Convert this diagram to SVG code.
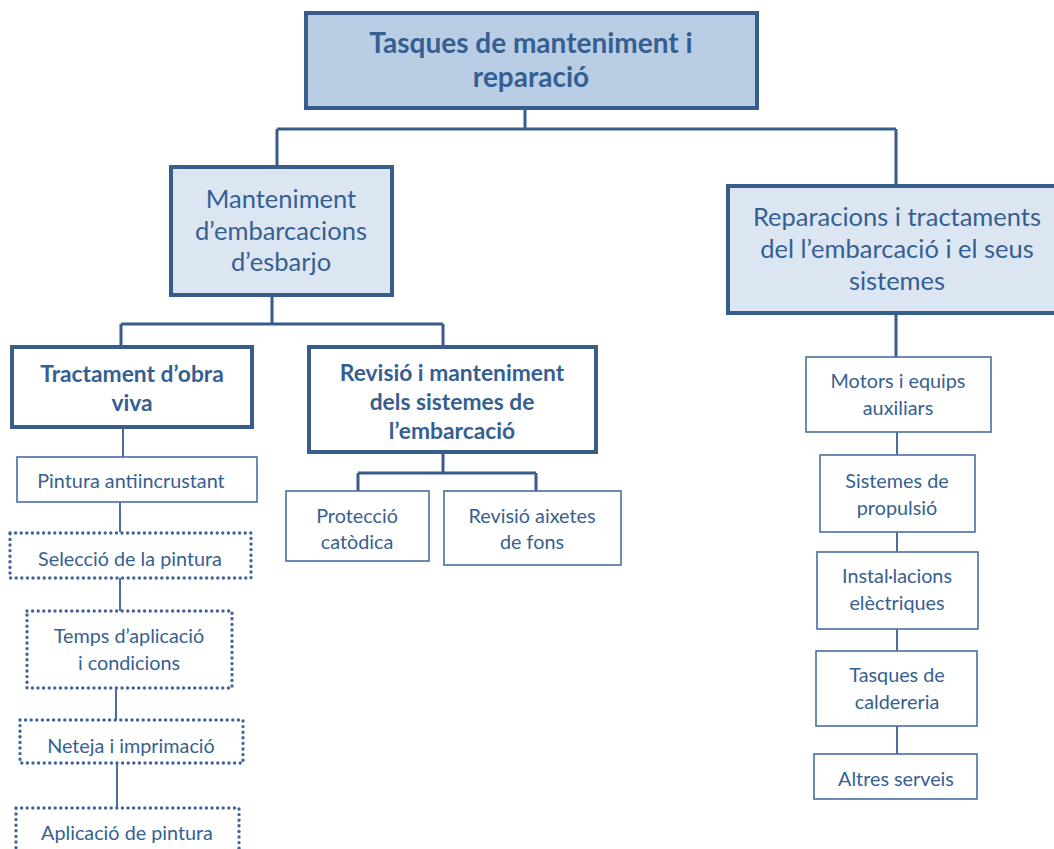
<svg xmlns="http://www.w3.org/2000/svg" width="1054" height="849" viewBox="0 0 1054 849">
<style>
text{font-family:Lato,"Open Sans","Liberation Sans",sans-serif;fill:#365F91;text-anchor:middle}
.b{font-weight:bold}
.t0{font-size:28px}
.t1{font-size:25.5px}
.t2{font-size:22.8px}
.t3{font-size:19.8px}
.main{fill:#B9CDE5;stroke:#385D8A;stroke-width:4}
.sub{fill:#DCE6F2;stroke:#385D8A;stroke-width:4}
.bold{fill:#fff;stroke:#385D8A;stroke-width:4}
.thin{fill:#fff;stroke:#4A6EA0;stroke-width:1.6}
.dot{fill:#fff;stroke:#3F6499;stroke-width:3.4;stroke-dasharray:0 5.6;stroke-linecap:round}
.c{fill:none;stroke:#385D8A;stroke-width:3}
.c2{fill:none;stroke:#4A6EA0;stroke-width:2}
</style>
<g id="connectors">
<path class="c" d="M525 108V129M277 129H896M277 129V166M896 129V185"/>
<path class="c" d="M272 295V324M121 324H443M121 324V346M443 324V346"/>
<path class="c" d="M443 452V473M358 473H536M358 473V491M536 473V491"/>
<path class="c2" d="M123 427V457M120 502V532M120 578V611M116 688V720M117 763V808"/>
<path class="c" d="M896 313V357"/>
<path class="c2" d="M897 432V455M897 532V552M897 629V651M897 726V754"/>
</g>
<g id="n-root"><rect class="main" x="306" y="13" width="451" height="95"/>
<text class="t0 b" x="531" y="53">Tasques de manteniment i</text>
<text class="t0 b" x="531" y="87">reparació</text></g>
<g id="n-manteniment"><rect class="sub" x="171" y="167" width="221" height="128"/>
<text class="t1" x="281" y="208">Manteniment</text>
<text class="t1" x="281" y="240">d’embarcacions</text>
<text class="t1" x="281" y="271">d’esbarjo</text></g>
<g id="n-reparacions"><rect class="sub" x="728" y="186" width="330" height="127"/>
<text class="t1" x="897" y="226">Reparacions i tractaments</text>
<text class="t1" x="897" y="258">del l’embarcació i el seus</text>
<text class="t1" x="897" y="290">sistemes</text></g>
<g id="n-obra"><rect class="bold" x="12" y="347" width="240" height="80"/>
<text class="t2 b" x="132" y="382">Tractament d’obra</text>
<text class="t2 b" x="132" y="411">viva</text></g>
<g id="n-revisio"><rect class="bold" x="309" y="347" width="287" height="105"/>
<text class="t2 b" x="452" y="381">Revisió i manteniment</text>
<text class="t2 b" x="452" y="410">dels sistemes de</text>
<text class="t2 b" x="452" y="439">l’embarcació</text></g>
<g id="n-pintura"><rect class="thin" x="17" y="457" width="240" height="45"/>
<text class="t3" x="131" y="488">Pintura antiincrustant</text></g>
<g id="n-seleccio"><rect class="dot" x="10" y="533" width="241" height="45"/>
<text class="t3" x="130" y="566">Selecció de la pintura</text></g>
<g id="n-temps"><rect class="dot" x="27" y="611" width="205" height="77"/>
<text class="t3" x="129" y="643">Temps d’aplicació</text>
<text class="t3" x="129" y="670">i condicions</text></g>
<g id="n-neteja"><rect class="dot" x="20" y="720" width="223" height="43"/>
<text class="t3" x="131" y="753">Neteja i imprimació</text></g>
<g id="n-aplicacio"><rect class="dot" x="16" y="808" width="223" height="60"/>
<text class="t3" x="127" y="840">Aplicació de pintura</text></g>
<g id="n-proteccio"><rect class="thin" x="286" y="491" width="143" height="70"/>
<text class="t3" x="357" y="523">Protecció</text>
<text class="t3" x="357" y="549">catòdica</text></g>
<g id="n-aixetes"><rect class="thin" x="444" y="491" width="177" height="74"/>
<text class="t3" x="532" y="523">Revisió aixetes</text>
<text class="t3" x="532" y="549">de fons</text></g>
<g id="n-motors"><rect class="thin" x="806" y="357" width="185" height="75"/>
<text class="t3" x="898" y="388">Motors i equips</text>
<text class="t3" x="898" y="415">auxiliars</text></g>
<g id="n-propulsio"><rect class="thin" x="820" y="455" width="155" height="77"/>
<text class="t3" x="897" y="488">Sistemes de</text>
<text class="t3" x="897" y="515">propulsió</text></g>
<g id="n-electriques"><rect class="thin" x="817" y="552" width="161" height="77"/>
<text class="t3" x="897" y="583">Instal·lacions</text>
<text class="t3" x="897" y="610">elèctriques</text></g>
<g id="n-caldereria"><rect class="thin" x="816" y="651" width="161" height="75"/>
<text class="t3" x="897" y="682">Tasques de</text>
<text class="t3" x="897" y="709">caldereria</text></g>
<g id="n-altres"><rect class="thin" x="814" y="754" width="163" height="45"/>
<text class="t3" x="896" y="786">Altres serveis</text></g>
</svg>
